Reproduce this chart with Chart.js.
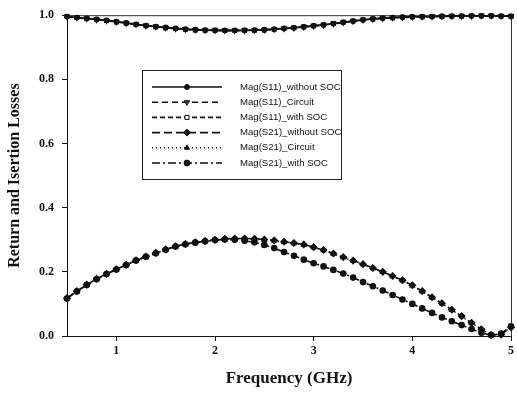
<!DOCTYPE html>
<html>
<head>
<meta charset="utf-8">
<script src="https://cdn.jsdelivr.net/npm/chart.js@4.4.0/dist/chart.umd.min.js"></script>
<style>
  html, body { margin: 0; padding: 0; background: #fff; }
  #wrap { width: 517px; height: 405px; }
</style>
</head>
<body>
<div id="wrap"><canvas id="chart" width="517" height="405"></canvas></div>
<script>
// Frequency points (GHz)
const freq = [0.5, 0.6, 0.7, 0.8, 0.9, 1.0, 1.1, 1.2, 1.3, 1.4, 1.5, 1.6, 1.7, 1.8, 1.9,
  2.0, 2.1, 2.2, 2.3, 2.4, 2.5, 2.6, 2.7, 2.8, 2.9, 3.0, 3.1, 3.2, 3.3, 3.4, 3.5,
  3.6, 3.7, 3.8, 3.9, 4.0, 4.1, 4.2, 4.3, 4.4, 4.5, 4.6, 4.7, 4.8, 4.9, 5.0];

const s11WithoutSoc = [0.996, 0.993, 0.990, 0.987, 0.984, 0.980, 0.976, 0.972, 0.968, 0.965,
  0.962, 0.959, 0.957, 0.955, 0.954, 0.953, 0.953, 0.953, 0.953, 0.954, 0.955, 0.957,
  0.959, 0.961, 0.964, 0.967, 0.970, 0.974, 0.978, 0.982, 0.986, 0.989, 0.991, 0.993,
  0.994, 0.995, 0.996, 0.996, 0.997, 0.997, 0.997, 0.998, 0.998, 0.998, 0.997, 0.997];
const s11Circuit = [0.995, 0.992, 0.989, 0.986, 0.983, 0.979, 0.975, 0.971, 0.967, 0.964,
  0.961, 0.958, 0.956, 0.954, 0.953, 0.952, 0.952, 0.952, 0.952, 0.953, 0.954, 0.956,
  0.958, 0.960, 0.963, 0.966, 0.969, 0.973, 0.977, 0.981, 0.985, 0.988, 0.990, 0.992,
  0.993, 0.994, 0.995, 0.996, 0.996, 0.997, 0.997, 0.997, 0.998, 0.998, 0.997, 0.997];
const s11WithSoc = [0.996, 0.993, 0.990, 0.987, 0.983, 0.979, 0.975, 0.971, 0.967, 0.964,
  0.961, 0.958, 0.956, 0.954, 0.953, 0.953, 0.952, 0.952, 0.953, 0.953, 0.954, 0.956,
  0.958, 0.961, 0.964, 0.967, 0.970, 0.974, 0.978, 0.982, 0.986, 0.988, 0.991, 0.992,
  0.994, 0.995, 0.995, 0.996, 0.996, 0.997, 0.997, 0.998, 0.998, 0.998, 0.997, 0.996];

const s21WithoutSoc = [0.118, 0.140, 0.160, 0.178, 0.194, 0.208, 0.222, 0.236, 0.248, 0.259,
  0.270, 0.280, 0.287, 0.292, 0.296, 0.300, 0.303, 0.304, 0.304, 0.303, 0.301, 0.298,
  0.294, 0.290, 0.285, 0.277, 0.268, 0.257, 0.246, 0.235, 0.224, 0.212, 0.200, 0.187,
  0.174, 0.158, 0.140, 0.121, 0.102, 0.082, 0.062, 0.041, 0.021, 0.004, 0.004, 0.027];
const s21Circuit = [0.118, 0.139, 0.159, 0.177, 0.193, 0.207, 0.221, 0.235, 0.247, 0.258,
  0.269, 0.279, 0.286, 0.291, 0.296, 0.299, 0.302, 0.303, 0.303, 0.302, 0.300, 0.297,
  0.293, 0.289, 0.284, 0.276, 0.267, 0.256, 0.245, 0.234, 0.223, 0.211, 0.199, 0.186,
  0.173, 0.157, 0.139, 0.120, 0.101, 0.081, 0.061, 0.040, 0.020, 0.004, 0.005, 0.028];
const s21WithSoc = [0.117, 0.139, 0.159, 0.177, 0.193, 0.207, 0.221, 0.235, 0.247, 0.258,
  0.269, 0.279, 0.286, 0.291, 0.295, 0.299, 0.301, 0.300, 0.297, 0.292, 0.284, 0.274,
  0.262, 0.250, 0.238, 0.227, 0.217, 0.206, 0.195, 0.182, 0.168, 0.155, 0.142, 0.128,
  0.114, 0.100, 0.086, 0.072, 0.058, 0.046, 0.034, 0.022, 0.010, 0.002, 0.008, 0.030];

const xTicks = [1, 2, 3, 4, 5];
const yTicks = [0, 0.2, 0.4, 0.6, 0.8, 1.0];

const labels = [
  "Mag(S11)_without SOC", "Mag(S11)_Circuit", "Mag(S11)_with SOC",
  "Mag(S21)_without SOC", "Mag(S21)_Circuit", "Mag(S21)_with SOC"
];

function pts(ys) {
  return ys.map((y, i) => ({ x: freq[i], y: y }));
}

function series(label, ys, dash, style, radius, fill, rot) {
  return {
    label: label,
    data: pts(ys),
    borderColor: "#111",
    borderWidth: 1.6,
    borderDash: dash,
    pointStyle: style,
    pointRadius: radius,
    pointRotation: rot || 0,
    pointBackgroundColor: fill,
    pointBorderColor: "#111",
    pointBorderWidth: 1.2,
    tension: 0,
    clip: 6
  };
}

const datasets = [
  series(labels[0], s11WithoutSoc, [], "circle", 2.2, "#111"),
  series(labels[1], s11Circuit, [6, 4], "triangle", 2.8, "#444", 180),
  series(labels[2], s11WithSoc, [5, 3], "rect", 2.6, "#fff"),
  series(labels[3], s21WithoutSoc, [8, 4], "rectRot", 3.2, "#111"),
  series(labels[4], s21Circuit, [1, 3], "triangle", 2.6, "#111"),
  series(labels[5], s21WithSoc, [8, 3, 2, 3], "circle", 2.7, "#111")
];

// legend drawn by hand so each row shows the line sample with its marker
const legendBox = {
  id: "legendBox",
  afterDraw(chart) {
    const ctx = chart.ctx;
    const x0 = 142, y0 = 70, w = 199, h = 109;
    ctx.save();
    ctx.fillStyle = "#fff";
    ctx.fillRect(x0, y0, w, h);
    ctx.strokeStyle = "#222";
    ctx.lineWidth = 1;
    ctx.strokeRect(x0 + 0.5, y0 + 0.5, w, h);
    chart.data.datasets.forEach((ds, i) => {
      const y = 87 + i * 15.2;
      ctx.strokeStyle = "#111";
      ctx.lineWidth = ds.borderWidth;
      ctx.setLineDash(ds.borderDash);
      ctx.beginPath();
      ctx.moveTo(152, y);
      ctx.lineTo(222, y);
      ctx.stroke();
      ctx.setLineDash([]);
      ctx.fillStyle = ds.pointBackgroundColor;
      ctx.lineWidth = 1;
      Chart.helpers.drawPoint(ctx, {
        pointStyle: ds.pointStyle,
        radius: ds.pointRadius + 0.3,
        rotation: ds.pointRotation,
        borderWidth: 1
      }, 187, y);
      ctx.fillStyle = "#111";
      ctx.font = "9.6px 'Liberation Sans', Arial, sans-serif";
      ctx.textBaseline = "middle";
      ctx.textAlign = "left";
      ctx.fillText(ds.label, 240, y);
    });
    ctx.restore();
  }
};

// thin frame on top and right of the plot area
const frame = {
  id: "frame",
  beforeDatasetsDraw(chart) {
    const a = chart.chartArea;
    const ctx = chart.ctx;
    ctx.save();
    ctx.strokeStyle = "#333";
    ctx.lineWidth = 1;
    ctx.beginPath();
    ctx.moveTo(a.left, a.top + 0.5);
    ctx.lineTo(a.right + 0.5, a.top + 0.5);
    ctx.lineTo(a.right + 0.5, a.bottom);
    ctx.stroke();
    ctx.restore();
  }
};

const tickFont = { family: "'Liberation Serif', 'Times New Roman', serif", size: 12, weight: "bold" };

new Chart(document.getElementById("chart"), {
  type: "line",
  data: { datasets: datasets },
  plugins: [frame, legendBox],
  options: {
    responsive: false,
    animation: false,
    layout: { padding: { top: 14, right: 3, left: 0, bottom: 0 } },
    plugins: { legend: { display: false }, tooltip: { enabled: false } },
    scales: {
      x: {
        type: "linear",
        min: 0.5,
        max: 5,
        afterFit(scale) { scale.height = 69; },
        afterBuildTicks(scale) { scale.ticks = xTicks.map(v => ({ value: v })); },
        grid: { drawOnChartArea: false, drawTicks: true, tickLength: 5, color: "#111" },
        border: { display: true, color: "#111", width: 1 },
        ticks: { color: "#111", font: tickFont, padding: 3, callback: v => String(v) },
        title: {
          display: true,
          text: "Frequency (GHz)",
          color: "#111",
          font: { family: "'Liberation Serif', 'Times New Roman', serif", size: 17, weight: "bold" },
          padding: { top: 4, bottom: 16 }
        }
      },
      y: {
        type: "linear",
        min: 0,
        max: 1,
        afterFit(scale) { scale.width = 67; },
        afterBuildTicks(scale) { scale.ticks = yTicks.map(v => ({ value: v })); },
        grid: { drawOnChartArea: false, drawTicks: true, tickLength: 5, color: "#111" },
        border: { display: true, color: "#111", width: 1 },
        ticks: { color: "#111", font: tickFont, padding: 8, callback: v => v.toFixed(1) },
        title: {
          display: true,
          text: "Return and Isertion Losses",
          color: "#111",
          font: { family: "'Liberation Serif', 'Times New Roman', serif", size: 16, weight: "bold" },
          padding: { top: 5, bottom: 0 }
        }
      }
    }
  }
});
</script>
</body>
</html>
